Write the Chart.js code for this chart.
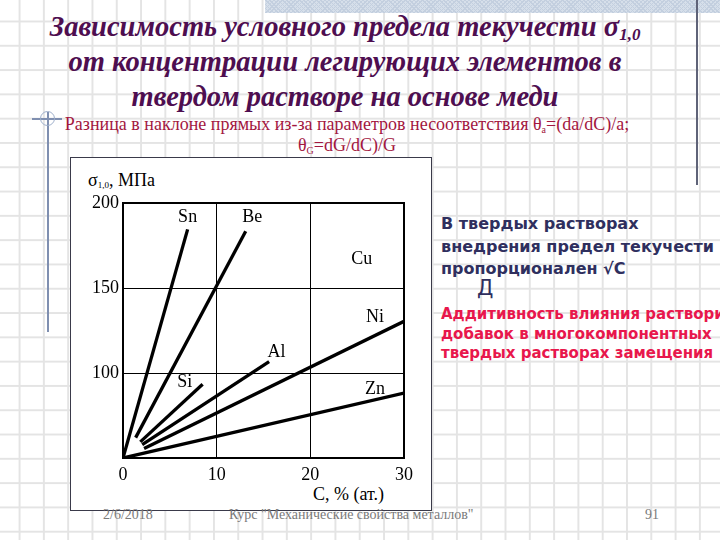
<!DOCTYPE html>
<html>
<head>
<meta charset="utf-8">
<script src="https://cdn.jsdelivr.net/npm/chart.js@4"></script>
<style>
  html, body { margin:0; padding:0; }
  body {
    width:720px; height:540px; position:relative; overflow:hidden;
    background-color:#fff;
    background-image:
      linear-gradient(to right, #e4e4e4 2px, transparent 2px),
      linear-gradient(to bottom, #e4e4e4 2px, transparent 2px);
    background-size:24.3px 24.3px;
    background-position:18.6px 20.5px;
  }
  .abs { position:absolute; white-space:nowrap; }
  #band { left:265px; top:0; width:455px; height:13px;
    background-color:#d6dfea;
    background-image: repeating-linear-gradient(45deg, #c3cfdf 0 1px, transparent 1px 3px),
                      repeating-linear-gradient(-45deg, #c3cfdf 0 1px, transparent 1px 3px); }
  #title { left:0; width:690px; top:9px; text-align:center;
    font-family:"Liberation Serif",serif; font-weight:bold; font-style:italic;
    font-size:28.5px; line-height:35px; color:#4e0e50; }
  #title sub { font-size:17px; vertical-align:-4px; line-height:0; }
  #sub { left:0; width:694px; top:114px; text-align:center;
    font-family:"Liberation Serif",serif; font-size:18px; line-height:21px; color:#a3173f; }
  #sub sub { font-size:10px; vertical-align:-3px; line-height:0; }
  #box { left:70px; top:157px; width:362px; height:354px; background:#fff;
    border:1.5px solid #3a3a4a; box-sizing:border-box; }
  #ylab { left:88px; top:170px; font-family:"Liberation Serif",serif; font-size:18px; color:#000; }
  #ylab sub { font-size:9px; vertical-align:-2px; line-height:0; }
  #xlab { left:313px; top:484px; font-family:"Liberation Serif",serif; font-size:18px; color:#000; }
  #blue { left:441px; top:213px; font-family:"DejaVu Sans",sans-serif; font-weight:bold;
    font-size:16px; line-height:22.5px; color:#2f2f5e; }
  #d { left:477px; top:276px; font-family:"DejaVu Sans",sans-serif; font-size:21px; color:#2f2f5e; }
  #red { left:441px; top:305px; font-family:"DejaVu Sans",sans-serif; font-weight:bold;
    font-size:15px; line-height:19.5px; color:#e8174c; }
  .foot { top:507px; font-family:"Liberation Serif",serif; font-size:14px; color:#7a7a7a; }
  #vline1 { left:47px; top:112px; width:1.5px; height:220px; background:#7f8fb0; }
  #hline1 { left:32px; top:118px; width:30px; height:1.5px; background:#7f8fb0; }
  #circ { left:40px; top:111px; width:13px; height:13px; border:1px solid #9fb0cc; border-radius:50%; }
  #vline2 { left:696px; top:0; width:1.5px; height:185px; background:#5f6378; }
  canvas { position:absolute; left:0; top:0; }
</style>
</head>
<body>
<div class="abs" id="band"></div>
<div class="abs" id="vline2"></div>
<div class="abs" id="vline1"></div>
<div class="abs" id="hline1"></div>
<div class="abs" id="circ"></div>
<div class="abs" id="title">Зависимость условного предела текучести σ<sub>1,0</sub><br>от концентрации легирующих элементов в<br>твердом растворе на основе меди</div>
<div class="abs" id="sub">Разница в наклоне прямых из-за параметров несоответствия θ<sub>a</sub>=(da/dC)/a;<br>θ<sub>G</sub>=dG/dC)/G</div>
<div class="abs" id="box"></div>
<div class="abs" id="ylab">σ<sub>1,0</sub>, МПа</div>
<div class="abs" id="xlab">C, % (ат.)</div>
<div class="abs" id="blue">В твердых растворах<br>внедрения предел текучести<br>пропорционален √C</div>
<div class="abs" id="d">Д</div>
<div class="abs" id="red">Аддитивность влияния растворимых<br>добавок в многокомпонентных<br>твердых растворах замещения</div>
<div class="abs foot" style="left:103px">2/6/2018</div>
<div class="abs foot" style="left:229px">Курс "Механические свойства металлов"</div>
<div class="abs foot" style="left:645px">91</div>
<canvas id="c" width="720" height="540"></canvas>
<script>
// ---- data ----
const elements = ['Sn', 'Be', 'Si', 'Al', 'Ni', 'Zn'];
const concStart = [0, 1.35, 1.85, 2.05, 2.25, 0];      // C, % (at.)
const sigmaStart = [50, 62, 59.5, 57.8, 55.6, 50];     // MPa
const concEnd = [6.9, 13.1, 8.5, 15.6, 30, 30];
const sigmaEnd = [184.5, 183.4, 93.4, 106.7, 130.4, 88.2];
const xTicks = [0, 10, 20, 30];
const yTicks = [50, 100, 150, 200];
const yTickLabels = ['', '100', '150', '200'];
// text labels on the plot (base metal + alloying elements)
const labelText = ['Sn', 'Be', 'Cu', 'Ni', 'Al', 'Si', 'Zn'];
const labelConc = [6.9, 13.8, 25.5, 26.9, 16.4, 6.6, 26.9];
const labelSigma = [191.6, 191.6, 166.7, 132.9, 112, 94.7, 90.2];

const datasets = elements.map((el, i) => ({
  label: el,
  data: [{x: concStart[i], y: sigmaStart[i]}, {x: concEnd[i], y: sigmaEnd[i]}],
  showLine: true,
  borderColor: '#000',
  borderWidth: 3.3,
  pointRadius: 0,
  borderCapStyle: 'butt'
}));

const frame = {
  id: 'frame',
  afterDraw(chart) {
    const a = chart.chartArea, ctx = chart.ctx;
    ctx.save();
    ctx.strokeStyle = '#000';
    ctx.lineWidth = 2;
    ctx.strokeRect(a.left, a.top, a.right - a.left, a.bottom - a.top);
    ctx.restore();
  }
};
const plotLabels = {
  id: 'plotLabels',
  afterDatasetsDraw(chart) {
    const ctx = chart.ctx, xs = chart.scales.x, ys = chart.scales.y;
    ctx.save();
    ctx.font = '18px "Liberation Serif", serif';
    ctx.fillStyle = '#000';
    ctx.textAlign = 'center';
    ctx.textBaseline = 'middle';
    labelText.forEach((t, i) => {
      ctx.fillText(t, xs.getPixelForValue(labelConc[i]), ys.getPixelForValue(labelSigma[i]));
    });
    ctx.restore();
  }
};

new Chart(document.getElementById('c'), {
  type: 'scatter',
  data: { datasets },
  plugins: [frame, plotLabels],
  options: {
    responsive: false,
    animation: false,
    devicePixelRatio: 1,
    layout: { padding: { left: 73, top: 203, right: 316, bottom: 42 } },
    plugins: { legend: { display: false }, tooltip: { enabled: false } },
    scales: {
      x: {
        type: 'linear', min: 0, max: 30,
        afterBuildTicks: s => { s.ticks = xTicks.map(v => ({value: v})); },
        afterFit: s => { s.height = 40; },
        grid: { color: '#000', lineWidth: 1, drawTicks: false },
        border: { display: false },
        ticks: { color: '#000', padding: 6, maxRotation: 0,
          font: { family: '"Liberation Serif", serif', size: 18 },
          callback: v => String(v) }
      },
      y: {
        type: 'linear', min: 50, max: 200,
        afterBuildTicks: s => { s.ticks = yTicks.map(v => ({value: v})); },
        afterFit: s => { s.width = 50; },
        grid: { color: '#000', lineWidth: 1, drawTicks: false },
        border: { display: false },
        ticks: { color: '#000', padding: 4,
          font: { family: '"Liberation Serif", serif', size: 18 },
          callback: v => yTickLabels[yTicks.indexOf(v)] }
      }
    }
  }
});
</script>
</body>
</html>
